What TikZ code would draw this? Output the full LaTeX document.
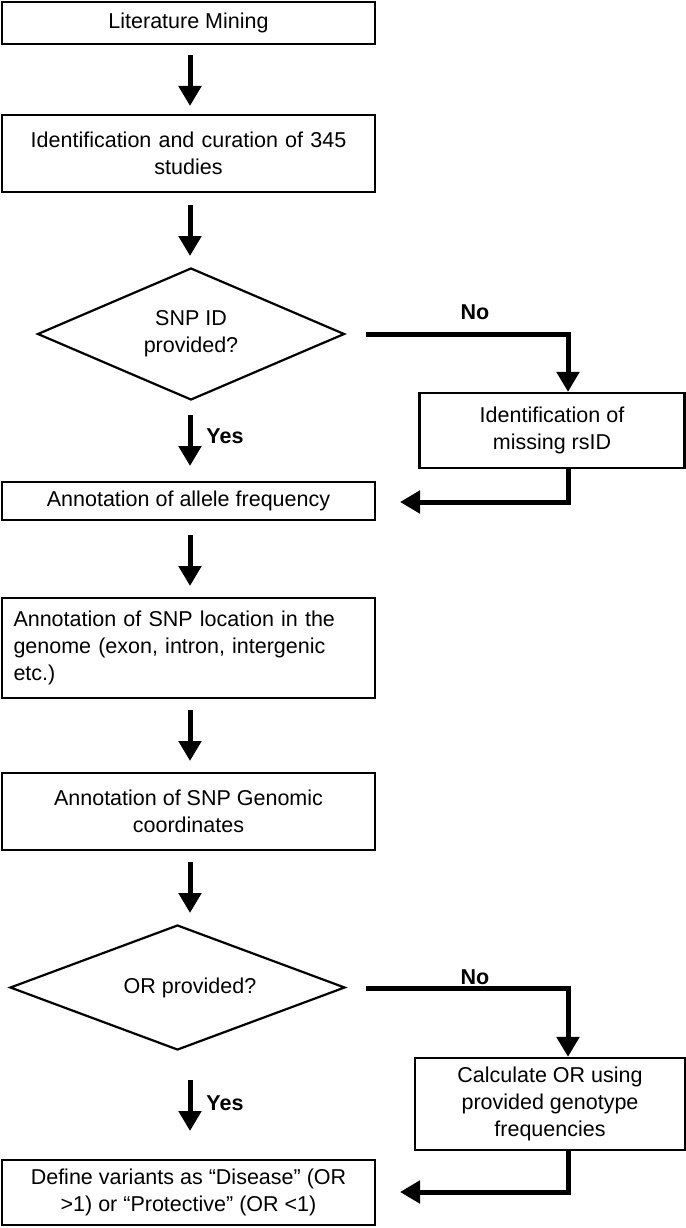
\documentclass[tikz,border=0pt]{standalone}
\usepackage{fontspec}
\setmainfont{Liberation Sans}
\usetikzlibrary{shapes.geometric,arrows.meta}
\begin{document}
\begin{tikzpicture}[x=1pt,y=-1pt,
  box/.style={draw,line width=2.2pt,align=center,inner sep=0pt,font=\fontsize{21.5}{27}\selectfont},
  dia/.style={draw,line width=2.2pt,shape=diamond,inner sep=0pt},
  dtxt/.style={align=center,inner sep=0pt,font=\fontsize{21.5}{27}\selectfont},
  arr/.style={line width=5pt,-{Triangle[length=20pt,width=22pt]}},
  lbl/.style={font=\bfseries\fontsize{21.5}{27}\selectfont}]
\useasboundingbox (0,0) rectangle (685,1228);
\node[box,minimum width=373,minimum height=42] (b1) at (188.5,23) {Literature Mining};
\node[box,minimum width=373,minimum height=77,text width=340] (b2) at (188.5,153.5) {Identification and curation of 345\\studies};
\node[dia,minimum width=307,minimum height=132] (d1) at (191,334) {};
\node[dtxt] (t1) at (191,334) {SNP ID\\provided?};
\node[box,minimum width=265,minimum height=75] (b3) at (552,430.5) {Identification of\\missing rsID};
\node[box,minimum width=373,minimum height=38] (b4) at (188.5,501) {Annotation of allele frequency};
\node[box,minimum width=373,minimum height=100,text width=350,align=left] (b5) at (188.5,648) {Annotation of SNP location in the\\genome (exon, intron, intergenic\\etc.)};
\node[box,minimum width=373,minimum height=77] (b6) at (188.5,811.5) {Annotation of SNP Genomic\\coordinates};
\node[dia,minimum width=335,minimum height=125] (d2) at (177.5,987.5) {};
\node[dtxt] (t2) at (190,987.5) {OR provided?};
\node[box,minimum width=270,minimum height=92] (b7) at (550,1104) {Calculate OR using\\provided genotype\\frequencies};
\node[box,minimum width=373,minimum height=65] (b8) at (188.5,1192.5) {Define variants as “Disease” (OR\\>1) or “Protective” (OR <1)};
\coordinate (s1) at (190,55); \coordinate (e1) at (190,106);
\draw[arr] (s1) -- (e1);
\coordinate (s2) at (190,205); \coordinate (e2) at (190,256);
\draw[arr] (s2) -- (e2);
\coordinate (n1) at (366,334); \coordinate (n1c) at (568,334);
\draw[arr] (n1) -- (n1c) -- (b3.north -| n1c);
\node[lbl] (no1) at (475,312) {No};
\coordinate (s3) at (190,415); \coordinate (e3) at (190,466);
\draw[arr] (s3) -- (e3);
\node[lbl] (y1) at (225,436) {Yes};
\coordinate (r1) at (568,502); \coordinate (r1e) at (400,502);
\draw[arr] (b3.south -| r1) -- (r1) -- (r1e);
\coordinate (s4) at (190,535); \coordinate (e4) at (190,586);
\draw[arr] (s4) -- (e4);
\coordinate (s5) at (190,710); \coordinate (e5) at (190,761);
\draw[arr] (s5) -- (e5);
\coordinate (s6) at (190,862); \coordinate (e6) at (190,913);
\draw[arr] (s6) -- (e6);
\coordinate (n2) at (366,988); \coordinate (n2c) at (568,988);
\draw[arr] (n2) -- (n2c) -- (b7.north -| n2c);
\node[lbl] (no2) at (475,977) {No};
\coordinate (s7) at (190,1080); \coordinate (e7) at (190,1131);
\draw[arr] (s7) -- (e7);
\node[lbl] (y2) at (225,1103) {Yes};
\coordinate (r2) at (568,1192); \coordinate (r2e) at (400,1192);
\draw[arr] (b7.south -| r2) -- (r2) -- (r2e);
\end{tikzpicture}
\end{document}
